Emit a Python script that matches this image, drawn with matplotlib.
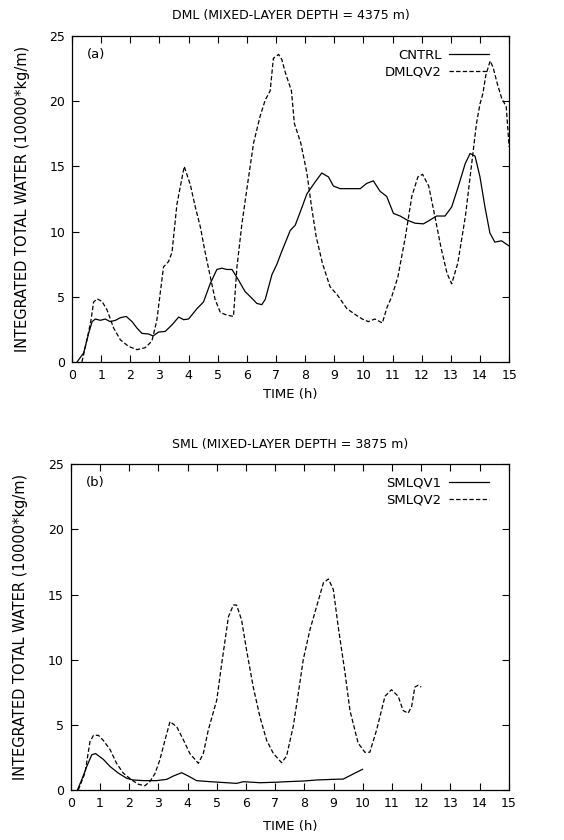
import matplotlib
matplotlib.use("Agg")
import matplotlib.pyplot as plt

plt.rcParams['font.family'] = ['DejaVu Sans']

# ---- Panel (a): DML ----
cntrl_t = [0.17, 0.4, 0.57, 0.69, 0.8, 0.97, 1.14, 1.31, 1.49, 1.66, 1.86, 2.06, 2.23, 2.4, 2.63, 2.78,
           2.97, 3.2, 3.43, 3.66, 3.83, 4.0, 4.29, 4.51, 4.74, 4.97, 5.14, 5.31, 5.49, 5.71, 5.94, 6.17,
           6.34, 6.51, 6.63, 6.86, 7.03, 7.2, 7.49, 7.66, 7.83, 8.06, 8.34, 8.57, 8.8, 8.97, 9.2, 9.54,
           9.89, 10.11, 10.34, 10.57, 10.8, 11.03, 11.26, 11.49, 11.77, 12.06, 12.29, 12.51, 12.8, 13.03,
           13.26, 13.49, 13.66, 13.83, 14.0, 14.17, 14.34, 14.51, 14.74, 15.0]
cntrl_v = [0.0, 0.7, 2.2, 3.1, 3.3, 3.2, 3.3, 3.1, 3.2, 3.4, 3.5, 3.1, 2.6, 2.2, 2.15, 2.0,
           2.3, 2.35, 2.85, 3.45, 3.25, 3.3, 4.1, 4.6, 6.0, 7.1, 7.2, 7.1, 7.1, 6.3, 5.4, 4.9,
           4.5, 4.4, 4.8, 6.7, 7.5, 8.5, 10.1, 10.5, 11.5, 12.9, 13.8, 14.5, 14.2, 13.5, 13.3, 13.3,
           13.3, 13.7, 13.9, 13.1, 12.7, 11.4, 11.2, 10.9, 10.65, 10.6, 10.9, 11.2, 11.2, 11.9,
           13.5, 15.2, 16.0, 15.8, 14.2, 11.9, 9.9, 9.2, 9.3, 8.9]

dmlqv2_t = [0.34, 0.54, 0.65, 0.74, 0.86, 1.03, 1.2, 1.43, 1.66, 1.94, 2.23, 2.51, 2.74, 2.91, 3.14,
            3.31, 3.43, 3.6, 3.85, 4.06, 4.23, 4.4, 4.57, 4.74, 4.91, 5.09, 5.31, 5.54, 5.66, 5.83,
            6.06, 6.23, 6.46, 6.63, 6.8, 6.91, 7.09, 7.2, 7.32, 7.53, 7.63, 7.85, 8.06, 8.22, 8.38,
            8.59, 8.85, 9.12, 9.43, 9.75, 9.96, 10.17, 10.39, 10.65, 10.81, 10.97, 11.18, 11.44,
            11.66, 11.87, 12.03, 12.24, 12.45, 12.66, 12.87, 13.03, 13.24, 13.5, 13.72, 13.88,
            14.0, 14.1, 14.2, 14.35, 14.45, 14.6, 14.75, 14.9, 15.0]
dmlqv2_v = [0.0, 2.0, 3.2, 4.6, 4.85, 4.65, 4.0, 2.6, 1.7, 1.2, 0.95, 1.1, 1.6, 3.2, 7.3,
            7.7, 8.4, 12.1, 15.0, 13.6, 11.9, 10.4, 8.4, 6.6, 4.8, 3.8, 3.6, 3.5, 7.3, 10.6,
            14.2, 16.8, 18.9, 20.1, 20.8, 23.3, 23.6, 23.2, 22.2, 20.8, 18.3, 16.8, 14.5, 11.9, 9.6,
            7.6, 5.8, 5.1, 4.1, 3.6, 3.3, 3.1, 3.3, 3.0, 4.2, 5.0, 6.5, 9.6,
            12.7, 14.2, 14.4, 13.5, 11.2, 8.8, 6.8, 6.0, 7.6, 11.2, 15.3, 18.3,
            19.8, 20.6, 22.0, 23.1, 22.6, 21.3, 20.2, 19.6, 16.5]

# ---- Panel (b): SML ----
smlqv1_t = [0.23, 0.38, 0.55, 0.72, 0.85, 1.12, 1.35, 1.63, 1.92, 2.14, 2.49, 2.94, 3.29, 3.51, 3.8,
            4.03, 4.31, 4.77, 5.34, 5.68, 5.91, 6.48, 7.05, 7.39, 7.96, 8.42, 8.99, 9.33, 9.67, 9.99]
smlqv1_v = [0.0, 0.8, 1.8, 2.7, 2.8, 2.35, 1.8, 1.3, 0.9, 0.77, 0.72, 0.72, 0.82, 1.07, 1.33,
            1.07, 0.72, 0.64, 0.56, 0.51, 0.64, 0.56, 0.6, 0.64, 0.69, 0.77, 0.82, 0.84, 1.23, 1.59]

smlqv2_t = [0.26, 0.49, 0.66, 0.78, 0.95, 1.12, 1.35, 1.57, 1.8, 2.09, 2.32, 2.54, 2.71, 2.89, 3.05,
            3.23, 3.4, 3.63, 3.86, 4.08, 4.37, 4.54, 4.71, 5.0, 5.17, 5.4, 5.57, 5.68, 5.85, 6.02,
            6.25, 6.48, 6.71, 6.94, 7.22, 7.39, 7.62, 7.79, 7.96, 8.19, 8.42, 8.65, 8.82, 8.99, 9.16,
            9.39, 9.56, 9.84, 10.07, 10.24, 10.47, 10.76, 10.98, 11.21, 11.38, 11.55, 11.67, 11.78,
            11.9, 12.0]
smlqv2_v = [0.0, 1.3, 3.7, 4.2, 4.2, 3.8, 3.1, 2.05, 1.3, 0.77, 0.44, 0.33, 0.64, 1.28, 2.3,
            3.84, 5.25, 4.86, 3.84, 2.8, 2.05, 2.8, 4.6, 6.9, 9.7, 13.3, 14.2, 14.2, 13.05, 10.75,
            7.9, 5.6, 3.8, 2.8, 2.1, 2.6, 4.9, 7.4, 10.0, 12.3, 14.1, 15.9, 16.2, 15.4, 12.5,
            9.0, 6.1, 3.6, 2.9, 2.9, 4.6, 7.2, 7.7, 7.2, 6.1, 5.9, 6.4, 7.9,
            8.05, 7.9]

xticks = list(range(0, 16))
yticks = [0, 5, 10, 15, 20, 25]
xlabel = "TIME (h)"
ylabel = "INTEGRATED TOTAL WATER (10000*kg/m)"

fig = plt.figure(figsize=(5.64, 8.4), dpi=100)
ax1 = fig.add_axes([0.1277, 0.569, 0.775, 0.388])
ax2 = fig.add_axes([0.1253, 0.0595, 0.777, 0.3877])

dash = (3.5, 1.8)

def style(ax, title, tag, xlpad):
    ax.set_xlim(0, 15)
    ax.set_ylim(0, 25)
    ax.set_xticks(xticks)
    ax.set_yticks(yticks)
    ax.tick_params(direction='in', top=True, right=True, length=5, width=0.8,
                   labelsize=9, pad=5)
    for s in ax.spines.values():
        s.set_linewidth(0.9)
    ax.set_xlabel(xlabel, fontsize=9.5, labelpad=xlpad)
    ax.set_ylabel(ylabel, fontsize=10.5, labelpad=14)
    ax.set_title(title, fontsize=9, pad=12)
    ax.text(0.035, 0.965, tag, transform=ax.transAxes, fontsize=9.5, va='top', ha='left')
    ax.legend(loc='upper right', frameon=False, markerfirst=False, fontsize=9.5,
              handlelength=3.0, handletextpad=0.6, labelspacing=0.3,
              borderaxespad=0.3, bbox_to_anchor=(0.975, 0.99))

ax1.plot(cntrl_t, cntrl_v, color='black', lw=0.9, label='CNTRL')
ax1.plot(dmlqv2_t, dmlqv2_v, color='black', lw=0.9, dashes=dash, label='DMLQV2')
style(ax1, "DML (MIXED-LAYER DEPTH = 4375 m)", "(a)", 4)

ax2.plot(smlqv1_t, smlqv1_v, color='black', lw=0.9, label='SMLQV1')
ax2.plot(smlqv2_t, smlqv2_v, color='black', lw=0.9, dashes=dash, label='SMLQV2')
style(ax2, "SML (MIXED-LAYER DEPTH = 3875 m)", "(b)", 7)

fig.savefig("out.png", dpi=100)
